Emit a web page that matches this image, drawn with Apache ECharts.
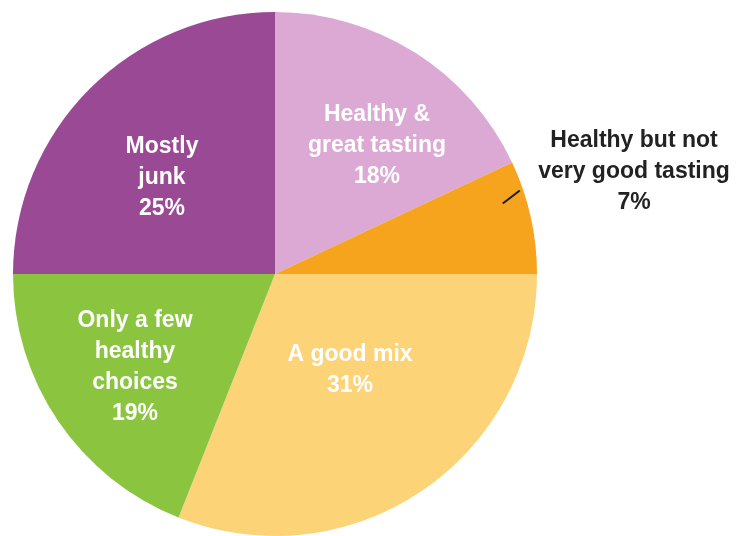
<!DOCTYPE html>
<html>
<head>
<meta charset="utf-8">
<script src="https://cdn.jsdelivr.net/npm/echarts@6/dist/echarts.min.js"></script>
<style>
  html, body { margin: 0; padding: 0; background: #ffffff; }
  #chart { width: 738px; height: 536px; }
</style>
</head>
<body>
<div id="chart"></div>
<script>
// Categories, clockwise from 12 o'clock
const categories = [
  'Healthy &\ngreat tasting',
  'Healthy but not\nvery good tasting',
  'A good mix',
  'Only a few\nhealthy\nchoices',
  'Mostly\njunk'
];
// Share of respondents, percent
const shares = [18, 7, 31, 19, 25];
const sliceColors = ['#dba9d3', '#f6a41d', '#fdd378', '#8bc53f', '#9a4a95'];

// Label anchors (text block centre) in pixels, and which label sits outside the pie
const labelAnchors = [[377, 146], [634, 172], [350, 370], [135, 367], [162, 178]];
const outsideLabel = [false, true, false, false, false];

const CX = 275, CY = 274, R = 262;

const chart = echarts.init(document.getElementById('chart'), null, { renderer: 'canvas' });

const data = categories.map((name, i) => ({
  name: name,
  value: shares[i],
  itemStyle: { color: sliceColors[i] },
  label: {
    position: outsideLabel[i] ? 'outside' : 'inside',
    color: outsideLabel[i] ? '#222222' : '#ffffff'
  },
  labelLine: { show: false }
}));

// Short leader tick inside the outside-labelled slice, near its rim
const tickLines = [];
shares.forEach((v, i) => {
  if (!outsideLabel[i]) return;
  let sum = 0;
  for (let k = 0; k < i; k++) sum += shares[k];
  const mid = (sum + v / 2) / 100 * 2 * Math.PI - 0.08;
  const x1 = CX + 0.91 * R * Math.sin(mid);
  const y1 = CY - 0.91 * R * Math.cos(mid);
  tickLines.push({
    type: 'line',
    z: 10,
    shape: { x1: x1, y1: y1, x2: x1 + 17, y2: y1 - 13 },
    style: { stroke: '#1a1a1a', lineWidth: 2 }
  });
});

chart.setOption({
  animation: false,
  backgroundColor: '#ffffff',
  graphic: tickLines,
  series: [{
    type: 'pie',
    center: [CX, CY],
    radius: [0, R],
    startAngle: 90,
    clockwise: true,
    avoidLabelOverlap: false,
    itemStyle: { borderWidth: 0 },
    label: {
      show: true,
      formatter: p => p.name + '\n' + p.value + '%',
      fontFamily: 'Liberation Sans, Arial, sans-serif',
      fontWeight: 'bold',
      fontSize: 23,
      lineHeight: 31,
      align: 'center'
    },
    labelLayout: function (params) {
      const a = labelAnchors[params.dataIndex];
      return { x: a[0], y: a[1], align: 'center', verticalAlign: 'middle' };
    },
    data: data
  }]
});
</script>
</body>
</html>
